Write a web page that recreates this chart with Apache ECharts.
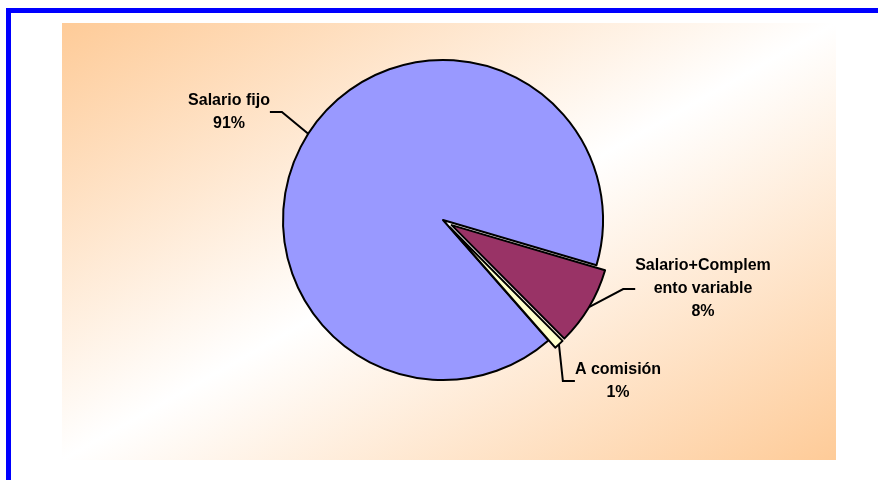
<!DOCTYPE html>
<html>
<head>
<meta charset="utf-8">
<title>Salario</title>
<script src="https://cdn.jsdelivr.net/npm/echarts@6/dist/echarts.min.js"></script>
<style>
  html, body { margin: 0; padding: 0; background: #ffffff; }
  #chart { width: 878px; height: 480px; }
</style>
</head>
<body>
<div id="chart"></div>
<script>
// Pay structure shares (percent)
var categories = ['Salario fijo', 'Salario+Complemento variable', 'A comisión'];
var labelTexts = ['Salario fijo', 'Salario+Complem\nento variable', 'A comisión'];
var shares = [91, 8, 1];
var sliceColors = ['#9999FF', '#993366', '#FFFFCC'];
var pulledOut = [false, true, true];

// Label block centres (px)
var labelPos = [
  { x: 229, y: 112 },
  { x: 703, y: 289 },
  { x: 618, y: 381 }
];

// Pie geometry
var pieCenter = [443, 220];
var pieRadius = 160;
var startAngle = -48.8;
var explodeDist = 10;

// Plot area box
var plot = { x: 62, y: 23, w: 774, h: 437 };

var chart = echarts.init(document.getElementById('chart'), null, { renderer: 'canvas' });

// Diagonal gradient whose bands run corner-to-corner (bottom-left to top-right)
var k = 2 * plot.w * plot.h / (plot.w * plot.w + plot.h * plot.h);
var bgFill = new echarts.graphic.LinearGradient(
  plot.x, plot.y,
  plot.x + k * plot.h, plot.y + k * plot.w,
  [
    { offset: 0, color: '#FECB98' },
    { offset: 0.5, color: '#FFFFFF' },
    { offset: 1, color: '#FECB98' }
  ],
  true
);

// Mid angle (degrees, ECharts convention) of each slice, going clockwise
var total = shares.reduce(function (a, b) { return a + b; }, 0);
function midAngle(i) {
  var before = 0;
  for (var j = 0; j < i; j++) before += shares[j];
  return startAngle - 360 * (before + shares[i] / 2) / total;
}

var hidden = 'rgba(0,0,0,0)';

// One pie layer per slice, so each slice can be pulled out along its own bisector
var series = categories.map(function (name, i) {
  var cx = pieCenter[0], cy = pieCenter[1];
  if (pulledOut[i]) {
    var a = midAngle(i) * Math.PI / 180;
    cx += Math.cos(a) * explodeDist;
    cy -= Math.sin(a) * explodeDist;
  }
  return {
    type: 'pie',
    name: name,
    z: 2 + i,
    center: [cx, cy],
    radius: [0, pieRadius],
    startAngle: startAngle,
    clockwise: true,
    avoidLabelOverlap: false,
    emphasis: { disabled: true },
    label: {
      show: true,
      position: 'outside',
      fontFamily: 'Liberation Sans, Arial, sans-serif',
      fontWeight: 'bold',
      fontSize: 16,
      lineHeight: 23,
      color: '#000000',
      align: 'center',
      formatter: function (p) {
        return labelTexts[p.dataIndex] + '\n' + p.value + '%';
      }
    },
    labelLine: {
      show: true,
      length: 12,
      length2: 12,
      smooth: false,
      lineStyle: { color: '#000000', width: 2 }
    },
    labelLayout: function (params) {
      var pos = labelPos[params.dataIndex];
      return { x: pos.x, y: pos.y, align: 'center', verticalAlign: 'middle' };
    },
    data: categories.map(function (n, j) {
      var own = j === i;
      return {
        name: n,
        value: shares[j],
        itemStyle: own
          ? { color: sliceColors[j], borderColor: '#000000', borderWidth: 2 }
          : { color: hidden, borderColor: hidden, borderWidth: 0 },
        label: { show: own },
        labelLine: { show: own }
      };
    })
  };
});

var option = {
  animation: false,
  backgroundColor: '#ffffff',
  graphic: [
    { type: 'rect', z: -10, silent: true,
      shape: { x: plot.x, y: plot.y, width: plot.w, height: plot.h },
      style: { fill: bgFill } },
    { type: 'rect', z: -10, silent: true,
      shape: { x: 6, y: 8, width: 872, height: 5 },
      style: { fill: '#0000FF' } },
    { type: 'rect', z: -10, silent: true,
      shape: { x: 6, y: 8, width: 5, height: 472 },
      style: { fill: '#0000FF' } }
  ],
  series: series
};

chart.setOption(option);
</script>
</body>
</html>
